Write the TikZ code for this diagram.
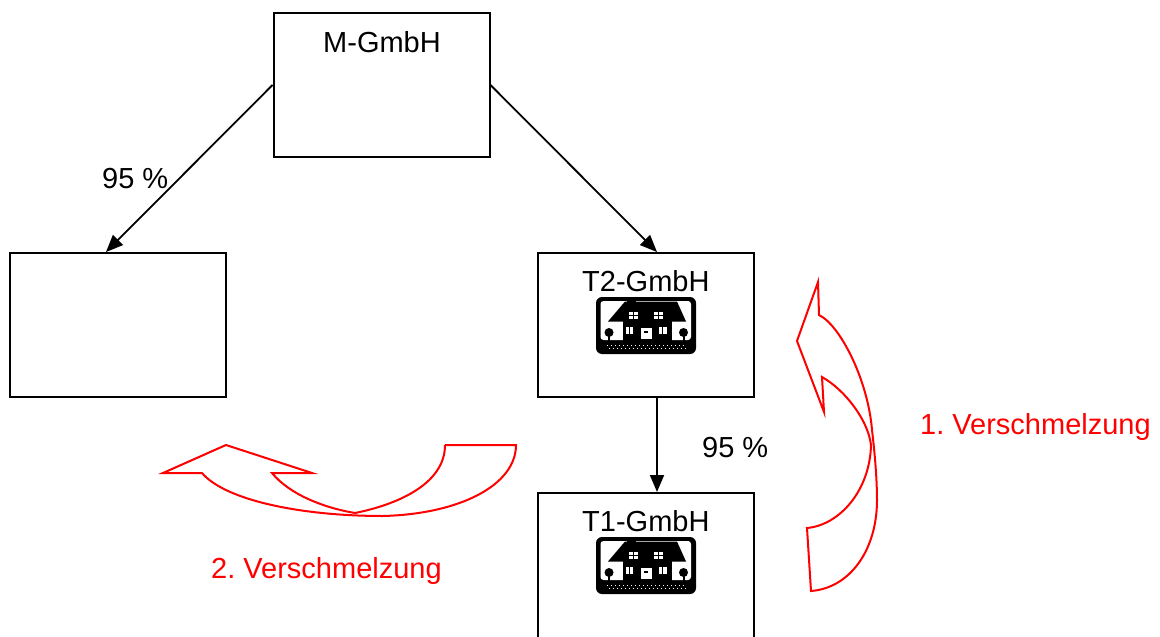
\documentclass[tikz,border=0pt]{standalone}
\usepackage{fontspec}
\setmainfont{Liberation Sans}
\frenchspacing
\usetikzlibrary{arrows.meta}
\tikzset{
  box/.style={draw=black,line width=2pt,minimum width=216pt,minimum height=144pt,inner sep=0pt},
  lbl/.style={anchor=base west,inner sep=0pt,font=\fontsize{29}{34}\selectfont},
  redlbl/.style={lbl,text=red},
  conn/.style={line width=1.8pt,-{Triangle[length=17pt,width=14pt]}},
  merge/.style={draw=red,line width=2pt,line join=miter},
  house/.pic={
    \fill[black,rounded corners=6pt] (0,0) rectangle (100,57);
    \fill[white,rounded corners=3pt] (4.5,4) rectangle (95,43);
    \fill[black] (12,24.5) -- (29,4.5) -- (81,4.5) -- (90,24.5) -- cycle;
    \fill[black] (31,2.5) rectangle (40,6);
    \fill[black] (27,23) rectangle (76,44);
    \fill[white] (32.5,14.5) rectangle (41.5,22);
    \fill[white] (57.5,14.5) rectangle (66.5,22);
    \draw[black,line width=0.6pt] (37,14.5)--(37,22) (32.5,18.3)--(41.5,18.3);
    \draw[black,line width=0.6pt] (62,14.5)--(62,22) (57.5,18.3)--(66.5,18.3);
    \fill[white] (29.5,29.5) rectangle (37,36.5);
    \fill[white] (62.5,29.5) rectangle (70.5,36.5);
    \draw[black,line width=0.6pt] (33.2,29.5)--(33.2,36.5) (66.5,29.5)--(66.5,36.5);
    \fill[white] (44.5,31) rectangle (55.5,42);
    \fill[black] (48,34) rectangle (52,36);
    \fill[black] (13,35.5) circle (4.5);
    \fill[black] (12,36) rectangle (14,44);
    \fill[black] (87.5,35.5) circle (4.5);
    \fill[black] (86.5,36) rectangle (88.5,44);
    \foreach \i in {0,...,19} {
      \fill[white] (10.5+4*\i,47.5) rectangle ++(1.4,1.4);
      \fill[white] (12.5+4*\i,50.5) rectangle ++(1.1,1.1);
    }
  }
}
\begin{document}
\begin{tikzpicture}[x=1pt,y=-1pt]
\useasboundingbox (0,0) rectangle (1160,637);
\clip (0,0) rectangle (1160,637);

% boxes
\node[box] (M) at (381.5,85) {};
\node[box] (L) at (118,325) {};
\node[box] (T2) at (646,325) {};
\node[box,minimum height=152pt] (T1) at (646,569) {};

% box texts
\node[lbl] (Mt) at (323,52) {M-GmbH};
\node[lbl] (T2t) at (582,291) {T2-GmbH};
\node[lbl] (T1t) at (582,531) {T1-GmbH};

% house icons
\pic at (596,297) {house};
\pic at (596,537) {house};

% connectors
\draw[conn] (M.west) -- ([xshift=-12pt]L.north);
\draw[conn] (M.east) -- ([xshift=11pt]T2.north);
\draw[conn] ([xshift=11pt]T2.south) -- ([xshift=11pt]T1.north);

% percentages
\node[lbl] (p1) at (102,188) {95 \%};
\node[lbl] (p2) at (702,457) {95 \%};

% 1. Verschmelzung curved arrow (right)
\draw[merge] (811,591) -- (807,528)
  .. controls (840,525) and (870,490) .. (871,445)
  .. controls (868,420) and (845,390) .. (822,377)
  -- (824,412) -- (797,341) -- (818,282) -- (819,315)
  .. controls (840,325) and (868,380) .. (872,430)
  .. controls (875,455) and (877,480) .. (877,500)
  .. controls (877,550) and (850,588) .. (811,591) -- cycle;

% 2. Verschmelzung curved arrow (bottom)
\draw[merge] (445,445) -- (516,445)
  .. controls (516,485) and (460,514) .. (383,516)
  .. controls (300,516) and (225,500) .. (202,473)
  -- (163,473) -- (226,445) -- (312,473) -- (272,473)
  .. controls (290,495) and (325,508) .. (355,513);
\draw[merge] (445,445) .. controls (445,485) and (395,505) .. (355,513);

% red labels
\node[redlbl] (v1) at (920,434) {1. Verschmelzung};
\node[redlbl] (v2) at (211,578) {2. Verschmelzung};
\end{tikzpicture}
\end{document}
